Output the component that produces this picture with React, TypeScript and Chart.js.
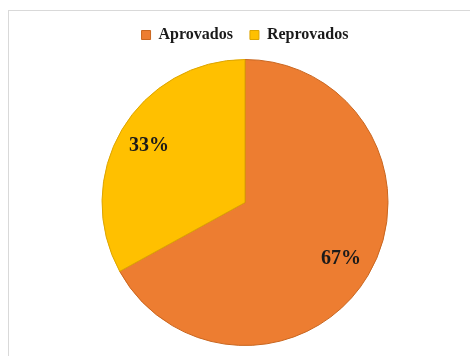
import React, { useEffect, useRef } from "react";
import { Chart, registerables } from "chart.js";

Chart.register(...registerables);

const categories = ["Aprovados", "Reprovados"];
const values = [67, 33];
const percentLabels = ["67%", "33%"];
const colors = ["#ED7D31", "#FFC000"];
const borderColors = ["#C9661F", "#DDA500"];

const labelPlugin = {
  id: "sliceLabels",
  afterDatasetsDraw(chart: any) {
    const { ctx } = chart;
    const meta = chart.getDatasetMeta(0);
    ctx.save();
    ctx.font = "bold 20px 'Liberation Serif', serif";
    ctx.fillStyle = "#1a1a1a";
    ctx.textAlign = "center";
    ctx.textBaseline = "middle";
    meta.data.forEach((arc: any, i: number) => {
      const { x, y, startAngle, endAngle, outerRadius } = arc.getProps(
        ["x", "y", "startAngle", "endAngle", "outerRadius"],
        true
      );
      const mid = (startAngle + endAngle) / 2;
      const r = outerRadius * 0.78;
      ctx.fillText(percentLabels[i], x + Math.cos(mid) * r, y + Math.sin(mid) * r);
    });
    ctx.restore();
  },
};

const legendSpacer = {
  id: "legendSpacer",
  beforeInit(chart: any) {
    const legend = chart.legend;
    if (!legend) return;
    const origFit = legend.fit;
    legend.fit = function () {
      origFit.call(this);
      this.height += 6;
    };
  },
};

export default function App() {
  const ref = useRef<HTMLCanvasElement>(null);
  useEffect(() => {
    if (!ref.current) return;
    const chart = new Chart(ref.current, {
      type: "pie",
      data: {
        labels: categories,
        datasets: [
          {
            data: values,
            backgroundColor: colors,
            borderColor: borderColors,
            borderWidth: 1,
          },
        ],
      },
      options: {
        animation: false,
        responsive: false,
        maintainAspectRatio: false,
        layout: { padding: { left: 20, right: 0, top: 10, bottom: 10 } },
        plugins: {
          legend: {
            position: "top",
            labels: {
              boxWidth: 9,
              boxHeight: 9,
              padding: 17,
              color: "#1a1a1a",
              font: { family: "'Liberation Serif', serif", size: 16, weight: "bold" },
            },
          },
          tooltip: { enabled: false },
        },
      },
      plugins: [legendSpacer, labelPlugin],
    });
    return () => chart.destroy();
  }, []);
  return (
    <div
      style={{
        position: "absolute",
        left: 0,
        top: 0,
        width: 470,
        height: 356,
        background: "#fff",
        overflow: "hidden",
      }}
    >
      <div
        style={{
          position: "absolute",
          left: 8,
          top: 10,
          width: 480,
          height: 360,
          borderLeft: "1px solid #d9d9d9",
          borderTop: "1px solid #d9d9d9",
        }}
      />
      <canvas ref={ref} width={470} height={356} style={{ position: "absolute", left: 0, top: 0 }} />
    </div>
  );
}
